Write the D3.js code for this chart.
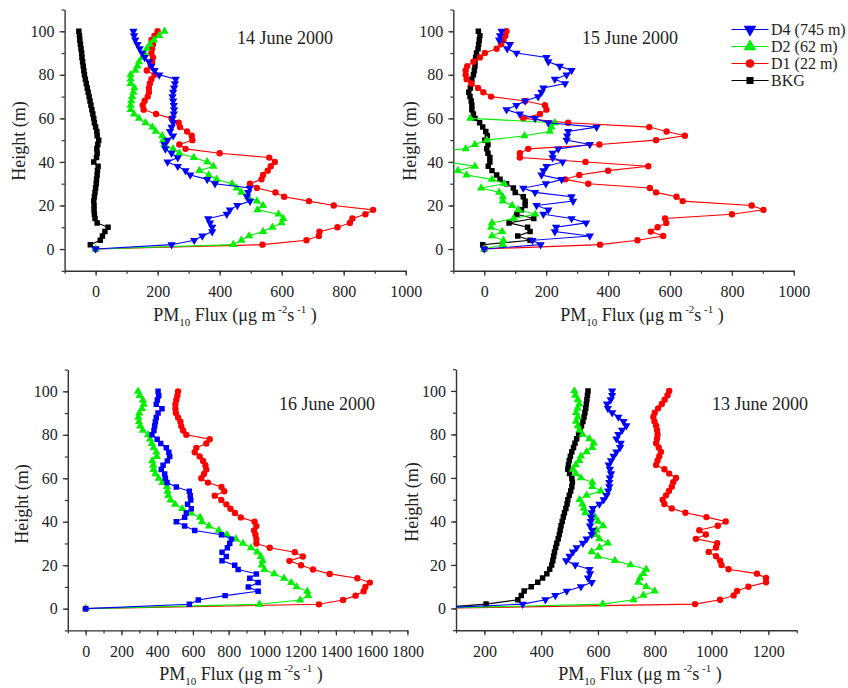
<!DOCTYPE html>
<html><head><meta charset="utf-8">
<script src="https://cdn.jsdelivr.net/npm/d3@7"></script>
<style>
body{margin:0;background:#fff}
text{font-family:"Liberation Serif","Times New Roman",serif;fill:#222}
</style>
</head><body>
<svg id="c" width="848" height="688"></svg>
<script>
// ---------------- DATA ----------------
const heights = [0,2,4,6,8,10,12,14,16,18,20,22,24,26,28,30,32,34,36,38,40,42,44,46,48,50,52,54,56,58,60,62,64,66,68,70,72,74,76,78,80,82,84,86,88,90,92,94,96,98,100];

// 14 June 2000
const jun14_D4  = [0,245,318,344,376,376,369,363,423,433,457,498,488,492,497,385,360,305,290,265,232,265,245,225,222,232,250,240,245,250,248,252,253,252,250,248,250,253,256,258,205,190,180,172,158,150,142,135,128,124,122];
const jun14_D2  = [0,444,470,495,540,570,600,605,590,522,540,520,492,470,455,440,390,365,335,380,360,317,270,250,222,218,215,194,183,161,140,124,113,113,115,118,122,125,113,113,113,128,135,140,150,158,165,175,188,205,222];
const jun14_D1  = [0,538,680,720,722,780,820,828,870,895,768,688,608,580,520,498,535,540,555,565,578,560,400,290,270,312,310,295,272,268,245,195,155,152,158,168,172,172,175,180,190,165,178,182,185,180,182,185,180,190,200];
const jun14_BKG = [0,-17,15,22,30,40,5,-2,-4,-5,-5,-6,-4,-2,0,2,3,5,6,8,-6,3,5,4,7,10,5,4,0,-4,-6,-9,-12,-15,-18,-21,-24,-27,-30,-33,-36,-38,-40,-42,-44,-45,-47,-49,-51,-52,-54];

// 15 June 2000
const jun15_D4  = [0,182,156,341,228,232,329,282,191,207,169,287,282,164,126,199,250,185,191,201,253,221,221,239,341,266,268,271,363,207,164,115,72,104,132,174,185,191,261,228,266,282,244,207,201,104,74,83,48,51,56];
const jun15_D2  = [0,60,62,25,58,22,25,95,165,110,90,60,60,48,-10,65,25,-57,-85,-30,-120,-250,-250,-60,-30,8,130,212,217,228,-45,null,null,null,null,null,null,null,null,null,null,null,null,null,null,null,null,null,null,null,null];
const jun15_D1  = [0,374,495,578,538,560,588,584,800,902,864,641,621,555,535,336,262,307,400,530,327,115,115,142,372,555,648,589,533,271,126,180,201,196,132,22,-3,-20,-41,-57,-60,-60,-55,-35,-14,2,40,55,62,68,72];
const jun15_BKG = [0,-5,148,108,148,140,80,160,105,120,132,132,126,100,94,72,51,40,25,13,18,18,12,8,12,2,10,5,-5,-15,-30,-35,-40,-40,-42,-46,-50,-45,-42,-40,-35,-32,-30,-30,-28,-25,-20,-18,-16,-14,-19];

// 16 June 2000
const jun16_D4  = [0,580,630,780,965,910,965,918,955,853,834,763,787,763,793,806,815,760,610,554,507,554,563,591,570,588,585,580,507,455,446,442,423,433,457,470,465,451,420,400,371,382,386,390,395,405,427,395,401,409,405];
const jun16_D2  = [0,972,1200,1245,1240,1180,1150,1110,1055,1000,985,990,980,960,925,880,840,790,745,690,650,640,590,540,500,475,462,458,455,430,408,390,380,378,372,398,395,380,370,360,349,320,305,298,295,300,315,325,320,302,293];
const jun16_D1  = [0,1305,1440,1510,1555,1565,1590,1520,1365,1272,1205,1140,1215,1170,1030,955,955,950,942,955,945,868,835,810,787,759,722,775,760,684,647,662,675,670,657,638,610,619,675,694,563,545,535,530,517,505,502,502,507,513,517];

// 13 June 2000
const jun13_D4  = [0,335,415,450,490,540,578,565,572,570,520,488,500,512,525,547,560,578,580,572,575,576,578,582,605,620,630,636,640,640,642,646,642,638,646,655,665,678,680,665,672,685,700,690,672,650,635,632,645,650,650];
const jun13_D2  = [0,617,725,760,800,770,742,748,760,770,715,660,600,578,605,635,605,590,595,618,600,590,555,550,545,535,560,610,580,580,540,522,512,522,534,540,560,580,585,570,546,535,529,523,529,523,528,534,529,520,517];
const jun13_D1  = [0,942,1030,1078,1090,1130,1192,1192,1160,1060,1035,1030,1016,990,1016,1020,945,980,957,1022,1050,982,908,860,834,828,840,850,860,865,875,851,834,805,810,816,822,814,805,808,810,808,805,799,795,800,812,825,835,845,851];
const jun13_BKG = [0,206,318,330,340,365,388,405,420,430,437,441,444,447,451,455,460,464,467,470,474,478,482,487,491,494,499,504,508,510,508,500,494,496,499,503,508,514,519,525,532,537,542,547,551,554,557,559,561,563,565];

const titles = ["14 June 2000","15 June 2000","16 June 2000","13 June 2000"];
const legendNames = ["D4 (745 m)","D2 (62 m)","D1 (22 m)","BKG"];
const yTickLabels = [0,20,40,60,80,100];
const xTicks14 = [0,200,400,600,800,1000];
const xTicks16 = [0,200,400,600,800,1000,1200,1400,1600,1800];
const xTicks13 = [200,400,600,800,1000,1200];

// ---------------- STYLE ----------------
const COL = {D4:"#0000ff", D2:"#00f000", D1:"#ff0000", BKG:"#000000"};
const svg = d3.select("#c");
const fmt = d3.format("d");

function symbolPath(shape, size){
  const t = shape==="circle"?d3.symbolCircle:shape==="square"?d3.symbolSquare:d3.symbolTriangle;
  return d3.symbol().type(t).size(size)();
}

const panels = [
  {title:titles[0], xd:[-100,1000], xr:[64.6,405.7], yr:[270.8,9.5], ticks:xTicks14, tx:237, ty:44,
   xl:[235,321], yl:[25,141],
   series:[{k:"BKG",v:jun14_BKG,s:"square"},{k:"D1",v:jun14_D1,s:"circle"},{k:"D2",v:jun14_D2,s:"up"},{k:"D4",v:jun14_D4,s:"down"}]},
  {title:titles[1], xd:[-100,1000], xr:[453.3,793.8], yr:[270.8,9.5], ticks:xTicks14, tx:582, ty:44,
   xl:[642,321], yl:[416,141],
   series:[{k:"BKG",v:jun15_BKG,s:"square"},{k:"D1",v:jun15_D1,s:"circle"},{k:"D2",v:jun15_D2,s:"up"},{k:"D4",v:jun15_D4,s:"down"}]},
  {title:titles[2], xd:[-100,1800], xr:[67.8,407.4], yr:[630.4,369.6], ticks:xTicks16, tx:279, ty:410,
   xl:[241,680], yl:[28,504],
   series:[{k:"D1",v:jun16_D1,s:"circle"},{k:"D2",v:jun16_D2,s:"up"},{k:"D4",v:jun16_D4,s:"square"}]},
  {title:titles[3], xd:[100,1300], xr:[456,796.7], yr:[630.2,369.2], ticks:xTicks13, tx:712, ty:410,
   xl:[640,680], yl:[418,502],
   series:[{k:"BKG",v:jun13_BKG,s:"square"},{k:"D1",v:jun13_D1,s:"circle"},{k:"D2",v:jun13_D2,s:"up"},{k:"D4",v:jun13_D4,s:"down"}]}
];

panels.forEach((p,i)=>{
  const x = d3.scaleLinear().domain(p.xd).range(p.xr);
  const y = d3.scaleLinear().domain([-10,110]).range(p.yr);
  const g = svg.append("g");
  const clipId = "clip"+i;
  svg.append("clipPath").attr("id",clipId).append("rect")
    .attr("x",p.xr[0]).attr("y",p.yr[1]).attr("width",p.xr[1]-p.xr[0]).attr("height",p.yr[0]-p.yr[1]);

  // axes
  const minorX = d3.range(p.xd[0], p.xd[1]+1, 100);
  const minorY = d3.range(-10, 111, 10);
  g.append("g").attr("transform",`translate(0,${p.yr[0]})`)
    .call(d3.axisBottom(x).tickValues(p.ticks).tickFormat(fmt).tickSize(5).tickSizeOuter(0).tickPadding(10));
  g.append("g").attr("transform",`translate(0,${p.yr[0]})`)
    .call(d3.axisBottom(x).tickValues(minorX).tickSize(3).tickFormat("")).select(".domain").remove();
  g.append("g").attr("transform",`translate(${p.xr[0]},0)`)
    .call(d3.axisLeft(y).tickValues(yTickLabels).tickFormat(fmt).tickSize(5).tickSizeOuter(0).tickPadding(5));
  g.append("g").attr("transform",`translate(${p.xr[0]},0)`)
    .call(d3.axisLeft(y).tickValues(minorY).tickSize(3).tickFormat("")).select(".domain").remove();
  g.selectAll(".domain").attr("stroke","#333").attr("stroke-width",1.4);
  g.selectAll(".tick line").attr("stroke","#333").attr("stroke-width",1.2);
  g.selectAll(".tick text").attr("font-family","Liberation Serif, serif").attr("font-size",16).attr("fill","#222");

  // series
  const plot = g.append("g").attr("clip-path",`url(#${clipId})`);
  p.series.forEach(s=>{
    const pts = heights.map((h,j)=>({h, v:s.v[j]})).filter(d=>d.v!==null);
    plot.append("path").datum(pts)
      .attr("fill","none").attr("stroke",COL[s.k]).attr("stroke-width",1.1)
      .attr("d", d3.line().x(d=>x(d.v)).y(d=>y(d.h)));
    const size = s.s==="circle"?32:30;
    plot.selectAll(null).data(pts).enter().append("path")
      .attr("d", symbolPath(s.s==="up"||s.s==="down"?"tri":s.s, size))
      .attr("fill",COL[s.k])
      .attr("transform", d=>`translate(${x(d.v)},${y(d.h)})` + (s.s==="down"?" rotate(180)":""));
  });

  // title
  g.append("text").attr("x",p.tx).attr("y",p.ty).attr("font-size",18).text(p.title);

  // x label
  const t = g.append("text").attr("x",p.xl[0]).attr("y",p.xl[1]).attr("text-anchor","middle").attr("font-size",18);
  t.append("tspan").text("PM");
  t.append("tspan").attr("dy",5).attr("font-size",11).text("10");
  t.append("tspan").attr("dy",-5).text(" Flux (μg m");
  t.append("tspan").attr("dy",-8).attr("font-size",11).text(" -2");
  t.append("tspan").attr("dy",8).text("s");
  t.append("tspan").attr("dy",-8).attr("font-size",11).text(" -1");
  t.append("tspan").attr("dy",8).text(" )");

  // y label
  g.append("text").attr("transform",`translate(${p.yl[0]},${p.yl[1]}) rotate(-90)`)
    .attr("text-anchor","middle").attr("font-size",18).text("Height (m)");
});

// legend (in 15 June panel)
const leg = svg.append("g");
const legKeys = [{k:"D4",s:"down"},{k:"D2",s:"up"},{k:"D1",s:"circle"},{k:"BKG",s:"square"}];
legKeys.forEach((d,i)=>{
  const yy = 29.5 + i*17;
  leg.append("line").attr("x1",731.5).attr("x2",768.5).attr("y1",yy).attr("y2",yy)
    .attr("stroke",COL[d.k]).attr("stroke-width",1.2);
  const sz = d.s==="circle"?60:d.s==="square"?50:70;
  leg.append("path").attr("d",symbolPath(d.s==="up"||d.s==="down"?"tri":d.s, sz))
    .attr("fill",COL[d.k])
    .attr("transform",`translate(750,${yy})`+(d.s==="down"?" rotate(180)":""));
  leg.append("text").attr("x",771).attr("y",yy+5.5).attr("font-size",16).text(legendNames[i]);
});
</script>
</body></html>
